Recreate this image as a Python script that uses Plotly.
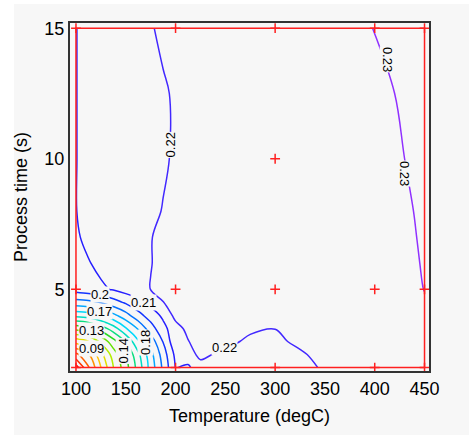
import plotly.graph_objects as go

# Design-space grid (Temperature, degC) and (Process time, s)
temps = [100, 112.5, 125, 137.5, 150, 162.5, 175, 187.5, 200, 212.5, 225, 250, 275, 300, 325, 350, 400, 450]
times = [2, 2.5, 3, 3.5, 4, 4.5, 5, 6, 7, 8, 10, 12.5, 15]

# Response values (rows follow `times`)
resp_y2    = [0.055, 0.079, 0.0998, 0.1198, 0.136, 0.154, 0.174, 0.192, 0.2105, 0.2080, 0.2170, 0.2150, 0.2145, 0.2150, 0.2170, 0.2212, 0.2245, 0.2275]
resp_y2_5  = [0.0775, 0.0886, 0.1067, 0.1245, 0.1397, 0.1576, 0.1765, 0.1948, 0.2125, 0.2165, 0.2220, 0.2177, 0.2165, 0.2165, 0.2190, 0.2225, 0.2250, 0.2280]
resp_y3    = [0.1041, 0.1097, 0.1221, 0.1361, 0.1507, 0.1686, 0.1840, 0.2005, 0.2175, 0.2195, 0.2247, 0.2235, 0.2175, 0.2185, 0.2215, 0.2228, 0.2252, 0.2282]
resp_y3_5  = [0.1333, 0.1369, 0.1448, 0.1555, 0.1690, 0.1811, 0.1957, 0.2069, 0.2162, 0.2225, 0.2235, 0.2240, 0.2221, 0.2201, 0.2222, 0.2233, 0.2256, 0.2285]
resp_y4    = [0.1629, 0.1652, 0.1706, 0.1774, 0.1862, 0.1967, 0.2045, 0.2120, 0.2230, 0.2238, 0.2242, 0.2245, 0.2235, 0.2225, 0.2230, 0.2238, 0.2258, 0.2290]
resp_y4_5  = [0.1860, 0.1874, 0.1905, 0.1960, 0.2015, 0.2070, 0.2132, 0.2199, 0.2222, 0.2232, 0.2237, 0.2242, 0.2238, 0.2233, 0.2234, 0.2238, 0.2258, 0.2295]
resp_y5    = [0.2040, 0.2060, 0.2082, 0.2108, 0.2142, 0.2175, 0.2201, 0.2210, 0.2218, 0.2222, 0.2225, 0.2228, 0.2230, 0.2231, 0.2233, 0.2237, 0.2257, 0.2301]
resp_y6    = [0.2055, 0.2093, 0.2128, 0.2155, 0.2175, 0.2189, 0.2199, 0.2207, 0.2213, 0.2218, 0.2221, 0.2225, 0.2228, 0.2230, 0.2233, 0.2238, 0.2262, 0.2304]
resp_y7    = [0.2085, 0.2128, 0.2155, 0.2172, 0.2184, 0.2192, 0.2199, 0.2206, 0.2211, 0.2214, 0.2216, 0.2219, 0.2223, 0.2228, 0.2234, 0.2241, 0.2268, 0.2306]
resp_y8    = [0.2098, 0.2128, 0.2152, 0.2168, 0.2180, 0.2189, 0.2195, 0.2201, 0.2207, 0.2211, 0.2214, 0.2219, 0.2224, 0.2230, 0.2237, 0.2245, 0.2272, 0.2308]
resp_y10   = [0.2098, 0.2124, 0.2147, 0.2162, 0.2174, 0.2184, 0.2191, 0.2197, 0.2203, 0.2208, 0.2212, 0.2219, 0.2226, 0.2233, 0.2241, 0.2250, 0.2282, 0.2312]
resp_y12_5 = [0.2098, 0.2125, 0.2148, 0.2163, 0.2175, 0.2185, 0.2192, 0.2197, 0.2203, 0.2208, 0.2212, 0.2220, 0.2228, 0.2236, 0.2245, 0.2255, 0.2288, 0.2318]
resp_y15   = [0.2098, 0.2125, 0.2150, 0.2168, 0.2180, 0.2190, 0.2198, 0.2205, 0.2210, 0.2215, 0.2220, 0.2230, 0.2240, 0.2252, 0.2265, 0.2278, 0.2301, 0.2330]

response = [resp_y2, resp_y2_5, resp_y3, resp_y3_5, resp_y4, resp_y4_5, resp_y5,
            resp_y6, resp_y7, resp_y8, resp_y10, resp_y12_5, resp_y15]

# Design points (red crosses) and design-space boundary
design_temp = [100, 200, 300, 400, 450, 300, 100, 200, 300, 400, 450, 100, 200, 300, 400, 450]
design_time = [15, 15, 15, 15, 15, 10, 5, 5, 5, 5, 5, 2, 2, 2, 2, 2]
bound_temp = [100, 450, 450, 100, 100]
bound_time = [2, 2, 15, 15, 2]

# Contour labels
label_text = ["0.22", "0.23", "0.23", "0.22", "0.21", "0.2", "0.17", "0.13", "0.09", "0.14", "0.18"]
label_temp = [194.4, 413, 430, 249.6, 167.8, 123.8, 123.6, 115.4, 115.4, 148, 169.8]
label_time = [10.55, 13.8, 9.43, 2.77, 4.48, 4.8, 4.14, 3.44, 2.75, 2.65, 2.96]
label_angle = [-90, 90, 90, 0, 0, 0, 0, 0, 0, -90, -90]

x_ticks = [100, 150, 200, 250, 300, 350, 400, 450]
y_ticks = [5, 10, 15]

BG = "#f7f7f7"
W, H = 469, 435
ML, MR, MT, MB = 70, 40, 23, 64
PW, PH = W - ML - MR, H - MT - MB

colorscale = [
    [0.0, "#ff0000"], [0.12, "#ff6000"], [0.25, "#ffd000"], [0.35, "#b8f000"],
    [0.45, "#30d800"], [0.55, "#00e0a0"], [0.65, "#00d8ff"], [0.75, "#0080ff"],
    [0.85, "#1818ff"], [0.94, "#4028ff"], [1.0, "#9030ff"],
]

fig = go.Figure()
fig.add_trace(go.Contour(
    x=temps, y=times, z=response,
    contours=dict(start=0.06, end=0.23, size=0.01, coloring="lines", showlabels=False),
    line=dict(width=1.5),
    colorscale=colorscale, zmin=0.05, zmax=0.23, zauto=False,
    showscale=False, hoverinfo="skip",
))
fig.add_trace(go.Scatter(
    x=bound_temp, y=bound_time, mode="lines",
    line=dict(color="#ff2020", width=1.5), hoverinfo="skip", showlegend=False,
))
fig.add_trace(go.Scatter(
    x=design_temp, y=design_time, mode="markers",
    marker=dict(symbol="cross-thin", size=7, line=dict(color="#ff2020", width=1.5)),
    hoverinfo="skip", showlegend=False, cliponaxis=False,
))

for t, xv, yv, a in zip(label_text, label_temp, label_time, label_angle):
    fig.add_annotation(
        x=xv, y=yv, text=t, textangle=a, showarrow=False,
        font=dict(family="Liberation Sans, Arial, sans-serif", size=13, color="black"),
        bgcolor=BG, borderpad=0,
    )

# page background: white strip on top/left, grey elsewhere
fig.add_shape(type="rect", xref="paper", yref="paper", layer="below",
              x0=(14 - ML) / PW, x1=(W - ML) / PW,
              y0=-(MB) / PH, y1=(H - 4 - MB) / PH,
              fillcolor=BG, line=dict(width=0))

axis_font = dict(family="Liberation Sans, Arial, sans-serif", size=18, color="black")
fig.update_layout(
    width=W, height=H,
    margin=dict(l=ML, r=MR, t=MT, b=MB, pad=0),
    paper_bgcolor="white", plot_bgcolor=BG,
    showlegend=False,
    font=axis_font,
    xaxis=dict(range=[94, 454.5], tickvals=x_ticks, ticks="", showgrid=False, zeroline=False,
               showline=True, mirror=True, linecolor="#333333", linewidth=2,
               tickfont=axis_font, title=dict(text="Temperature (degC)", font=axis_font, standoff=12)),
    yaxis=dict(range=[1.87, 15.2], tickvals=y_ticks, ticks="", showgrid=False, zeroline=False,
               showline=True, mirror=True, linecolor="#333333", linewidth=2,
               tickfont=axis_font, title=dict(text="Process time (s)", font=axis_font, standoff=12)),
)

fig.write_html("out.html")
